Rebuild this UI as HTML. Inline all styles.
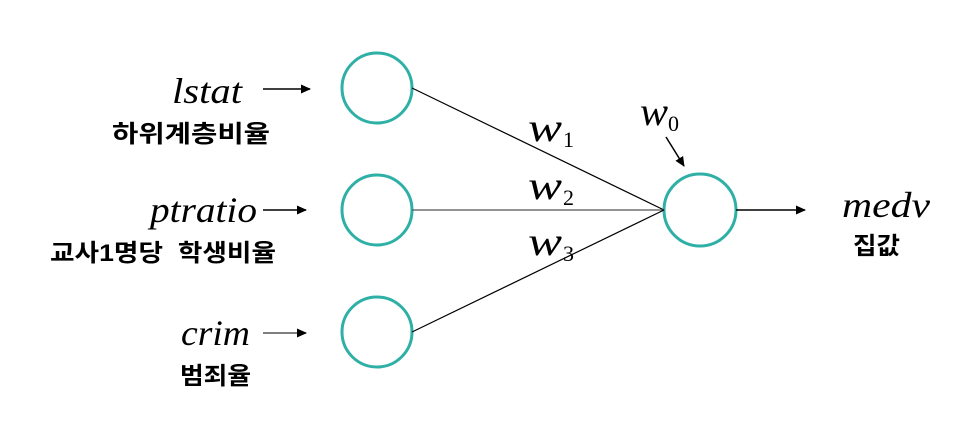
<!DOCTYPE html>
<html><head><meta charset="utf-8"><style>html,body{margin:0;padding:0;background:#fff}</style></head>
<body>
<svg width="974" height="431" viewBox="0 0 974 431" xmlns="http://www.w3.org/2000/svg">
<defs><marker id="a" markerWidth="10" markerHeight="10" refX="9" refY="5" orient="auto" markerUnits="userSpaceOnUse"><path d="M0,0.5 L10,5 L0,9.5 z" fill="#000"/></marker></defs>
<g fill="none" stroke="#2fb0a6" stroke-width="3">
<circle cx="377" cy="88" r="35"/>
<circle cx="377" cy="210" r="35"/>
<circle cx="377" cy="332" r="35"/>
<circle cx="700" cy="210" r="36"/>
</g>
<g stroke="#000" stroke-width="1.2" fill="none">
<line x1="412" y1="88" x2="664" y2="210"/>
<line x1="412" y1="210" x2="664" y2="210" stroke="#555"/>
<line x1="412" y1="332" x2="664" y2="210"/>
<line x1="263" y1="89" x2="310" y2="89" stroke-width="1.5" marker-end="url(#a)"/>
<line x1="263" y1="210" x2="306" y2="210" stroke-width="1.5" marker-end="url(#a)"/>
<line x1="263" y1="333" x2="306" y2="333" stroke-width="1.5" stroke="#555" marker-end="url(#a)"/>
<line x1="736" y1="210" x2="805" y2="210" stroke-width="1.5" marker-end="url(#a)"/>
<line x1="666" y1="137" x2="684" y2="166" stroke-width="1.5" marker-end="url(#a)"/>
</g>
<g font-family="Liberation Serif, serif" font-style="italic" font-size="36" fill="#000">
<text x="172" y="103" textLength="70" lengthAdjust="spacingAndGlyphs">lstat</text>
<text x="150" y="222" textLength="107" lengthAdjust="spacingAndGlyphs">ptratio</text>
<text x="181" y="345" textLength="69" lengthAdjust="spacingAndGlyphs">crim</text>
<text x="842" y="217" textLength="88" lengthAdjust="spacingAndGlyphs">medv</text>
</g>
<g font-family="Liberation Serif, serif" font-style="italic" fill="#000" font-size="40">
<text x="528" y="141" textLength="34" lengthAdjust="spacingAndGlyphs">w</text><text x="563" y="147" font-size="22" font-style="normal">1</text>
<text x="528" y="199" textLength="34" lengthAdjust="spacingAndGlyphs">w</text><text x="563" y="205" font-size="22" font-style="normal">2</text>
<text x="528" y="255" textLength="34" lengthAdjust="spacingAndGlyphs">w</text><text x="563" y="261" font-size="22" font-style="normal">3</text>
<text x="640" y="125" textLength="28" lengthAdjust="spacingAndGlyphs">w</text><text x="668" y="131" font-size="22" font-style="normal">0</text>
</g>
<g font-family="Liberation Sans, Noto Sans CJK KR, sans-serif" font-weight="bold" font-size="24" fill="#000">
<text x="112" y="142" textLength="158" lengthAdjust="spacingAndGlyphs">하위계층비율</text>
<text x="50" y="261" textLength="226" lengthAdjust="spacingAndGlyphs" style="white-space:pre">교사1명당  학생비율</text>
<text x="180" y="384" textLength="71" lengthAdjust="spacingAndGlyphs">범죄율</text>
<text x="853" y="254" textLength="47" lengthAdjust="spacingAndGlyphs">집값</text>
</g>
</svg>
</body></html>
